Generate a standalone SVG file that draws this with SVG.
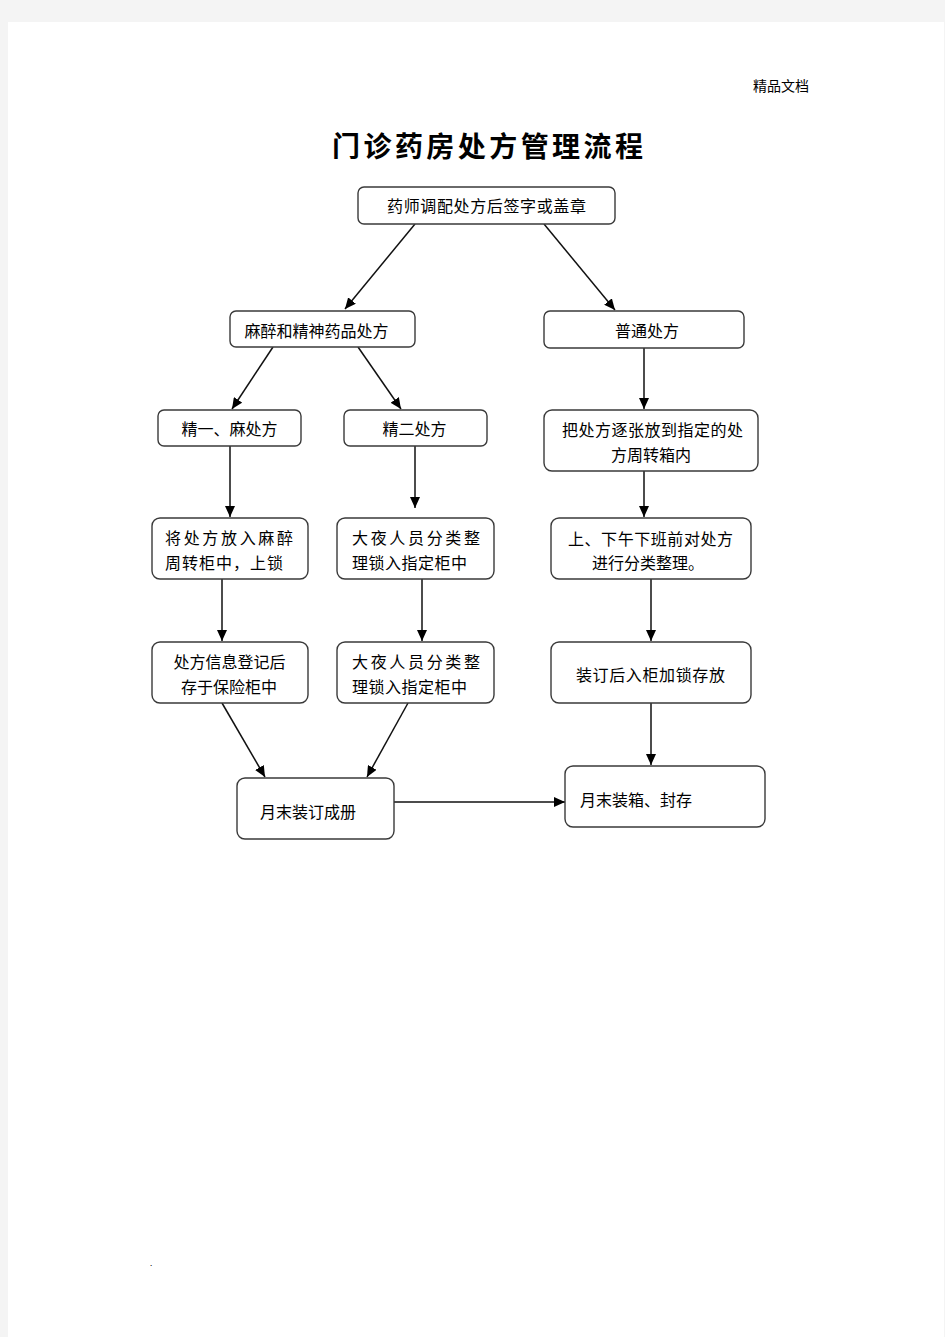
<svg xmlns="http://www.w3.org/2000/svg" width="945" height="1337" viewBox="0 0 945 1337">
<defs>
<marker id="ah" markerWidth="12" markerHeight="10" refX="11" refY="5" orient="auto" markerUnits="userSpaceOnUse">
<path d="M0,0 L11,5 L0,10 Z" fill="#000"/>
</marker>
<style>
.box{fill:#fff;stroke:#3a3a3a;stroke-width:1.4}
.t{font-family:"Noto Sans CJK SC","Liberation Sans",sans-serif;font-size:16px;fill:#000}
.m{text-anchor:middle}
.c{stroke:#111;stroke-width:1.5;fill:none;marker-end:url(#ah)}
</style>
</defs>
<rect x="0" y="0" width="945" height="1337" fill="#f4f4f4"/>
<rect x="8" y="22" width="936" height="1315" fill="#fff"/>
<text x="781" y="91" class="t m" font-size="14" style="font-size:14px">精品文档</text>
<text x="487.5" y="157" class="t m" style="font-size:28px;font-weight:bold" textLength="311" lengthAdjust="spacing">门诊药房处方管理流程</text>

<g id="connectors">
<line class="c" x1="415" y1="224" x2="345" y2="309"/>
<line class="c" x1="544" y1="224" x2="615" y2="310"/>
<line class="c" x1="273" y1="347" x2="232" y2="409"/>
<line class="c" x1="358" y1="347" x2="401" y2="409"/>
<line class="c" x1="644" y1="348" x2="644" y2="409"/>
<line class="c" x1="230" y1="446" x2="230" y2="517"/>
<line class="c" x1="415" y1="446" x2="415" y2="508"/>
<line class="c" x1="644" y1="471" x2="644" y2="517"/>
<line class="c" x1="222" y1="579" x2="222" y2="641"/>
<line class="c" x1="422" y1="579" x2="422" y2="641"/>
<line class="c" x1="651" y1="579" x2="651" y2="641"/>
<line class="c" x1="222" y1="703" x2="265" y2="777"/>
<line class="c" x1="408" y1="703" x2="367" y2="777"/>
<line class="c" x1="394" y1="802" x2="565" y2="802"/>
<line class="c" x1="651" y1="703" x2="651" y2="765"/>
</g>

<g id="n1"><rect class="box" x="358" y="187" width="257" height="37" rx="6"/>
<text class="t m" x="486.5" y="212" textLength="199" lengthAdjust="spacing">药师调配处方后签字或盖章</text></g>

<g id="n2"><rect class="box" x="230" y="311" width="185" height="36" rx="6"/>
<text class="t m" x="316.5" y="337">麻醉和精神药品处方</text></g>

<g id="n3"><rect class="box" x="544" y="311" width="200" height="37" rx="6"/>
<text class="t m" x="647" y="337">普通处方</text></g>

<g id="n4"><rect class="box" x="158" y="410" width="143" height="36" rx="6"/>
<text class="t m" x="229.5" y="435">精一、麻处方</text></g>

<g id="n5"><rect class="box" x="344" y="410" width="143" height="36" rx="6"/>
<text class="t m" x="414.5" y="435">精二处方</text></g>

<g id="n6"><rect class="box" x="544" y="410" width="214" height="61" rx="8"/>
<text class="t m" x="652.5" y="436" textLength="181" lengthAdjust="spacing">把处方逐张放到指定的处</text>
<text class="t m" x="651" y="461">方周转箱内</text></g>

<g id="n7"><rect class="box" x="152" y="518" width="156" height="61" rx="8"/>
<text class="t" x="165" y="544" textLength="128" lengthAdjust="spacing">将处方放入麻醉</text>
<text class="t" x="165" y="569" textLength="118" lengthAdjust="spacing">周转柜中，上锁</text></g>

<g id="n8"><rect class="box" x="337" y="518" width="157" height="61" rx="8"/>
<text class="t" x="352" y="544" textLength="128" lengthAdjust="spacing">大夜人员分类整</text>
<text class="t" x="352" y="569" textLength="115" lengthAdjust="spacing">理锁入指定柜中</text></g>

<g id="n9"><rect class="box" x="551" y="518" width="200" height="61" rx="8"/>
<text class="t m" x="650.5" y="545" textLength="165" lengthAdjust="spacing">上、下午下班前对处方</text>
<text class="t m" x="648" y="569">进行分类整理。</text></g>

<g id="n10"><rect class="box" x="152" y="642" width="156" height="61" rx="8"/>
<text class="t m" x="229.5" y="668">处方信息登记后</text>
<text class="t m" x="229" y="693">存于保险柜中</text></g>

<g id="n11"><rect class="box" x="337" y="642" width="157" height="61" rx="8"/>
<text class="t" x="352" y="668" textLength="128" lengthAdjust="spacing">大夜人员分类整</text>
<text class="t" x="352" y="693" textLength="115" lengthAdjust="spacing">理锁入指定柜中</text></g>

<g id="n12"><rect class="box" x="551" y="642" width="200" height="61" rx="8"/>
<text class="t m" x="650.5" y="681" textLength="149" lengthAdjust="spacing">装订后入柜加锁存放</text></g>

<g id="n13"><rect class="box" x="237" y="778" width="157" height="61" rx="8"/>
<text class="t m" x="308" y="818">月末装订成册</text></g>

<g id="n14"><rect class="box" x="565" y="766" width="200" height="61" rx="8"/>
<text class="t m" x="636" y="806">月末装箱、封存</text></g>

<text x="150" y="1266" class="t" style="font-size:8px">.</text>
</svg>
